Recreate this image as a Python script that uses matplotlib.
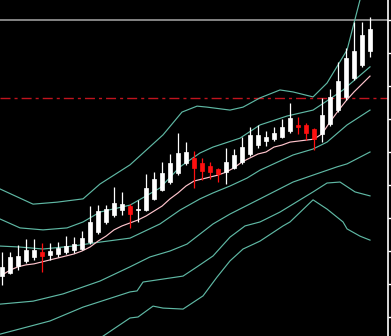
import matplotlib
matplotlib.use("Agg")
import matplotlib.pyplot as plt
from matplotlib.patches import Rectangle

# ---- data (price units) ----
opens  = [11.24,11.33,11.55,11.70,11.82,11.97,11.88,11.91,11.97,12.03,12.06,12.27,12.58,12.88,13.09,13.24,
          13.36,13.24,13.24,13.58,13.85,14.09,14.36,14.67,14.82,14.67,14.58,14.48,14.39,14.52,14.70,14.94,
          15.21,15.33,15.39,15.45,15.64,15.82,15.82,15.70,15.55,15.85,16.27,16.67,17.24,17.64,18.06]
highs  = [11.97,11.97,12.18,12.36,12.36,12.24,12.24,12.27,12.45,12.42,12.61,13.36,13.39,13.39,13.94,13.79,
          13.42,13.55,14.33,14.39,14.70,14.94,15.58,15.30,15.03,14.82,14.70,14.52,15.12,15.09,15.45,15.76,
          15.82,15.64,15.76,16.00,16.48,16.06,15.88,15.73,16.64,16.91,17.73,18.15,18.94,18.94,19.09]
lows   = [10.97,11.30,11.42,11.64,11.73,11.36,11.73,11.82,11.91,11.94,12.03,12.21,12.52,12.82,13.03,13.09,
          12.70,12.88,13.21,13.55,13.82,14.03,14.30,14.61,13.91,14.15,14.18,14.09,14.03,14.48,14.64,14.88,
          15.12,15.18,15.33,15.42,15.58,15.55,15.36,15.06,15.30,15.79,16.21,16.58,17.18,17.58,17.88]
closes = [11.52,11.82,11.85,12.03,12.03,11.85,12.00,12.09,12.15,12.21,12.39,12.88,13.21,13.27,13.45,13.42,
          13.12,13.27,13.91,14.18,14.36,14.67,14.97,15.00,14.52,14.42,14.39,14.33,14.70,14.91,15.15,15.52,
          15.52,15.45,15.58,15.76,16.03,15.76,15.58,15.39,16.12,16.67,17.15,17.85,18.06,18.55,18.73]

ma_line = [11.27,11.42,11.52,11.58,11.61,11.67,11.73,11.79,11.85,11.91,12.00,12.12,12.30,12.45,12.64,12.76,
           12.85,12.94,13.06,13.21,13.36,13.58,13.76,13.97,14.12,14.18,14.24,14.30,14.39,14.52,14.70,14.82,
           14.94,15.00,15.15,15.21,15.30,15.33,15.36,15.39,15.55,15.91,16.24,16.55,16.82,17.06,17.30]

band_a_x = [-0.25,3.88,6.88,10.13,12.25,16.0,20.13,22.5,24.38,25.63,28.5,30.13,32.25,34.75,36.38,38.88,40.63,43.13,44.75,46.0]
band_a_y = [13.88,13.42,13.48,13.58,14.03,14.61,15.52,16.21,16.39,16.36,16.27,16.36,16.64,16.88,16.82,16.67,17.09,18.09,19.61,20.4]

band_b_x = [-0.25,2.25,5.13,8.13,10.13,12.25,16.0,19.75,22.25,24.75,26.38,29.75,32.25,35.63,37.25,38.88,41.0,42.63,46.0]
band_b_y = [12.97,12.70,12.64,12.70,12.88,13.18,13.39,13.91,14.55,14.97,15.15,15.42,15.82,16.09,16.18,16.27,16.61,16.88,17.58]

band_c_x = [-0.25,2.25,5.13,8.88,12.25,16.0,19.75,22.25,24.75,26.38,28.5,30.63,32.25,36.38,38.88,40.63,43.13,46.0]
band_c_y = [12.15,12.12,12.06,12.15,12.27,12.39,12.82,13.24,13.58,13.76,13.97,14.21,14.45,14.91,15.09,15.30,15.82,16.27]

band_d_x = [-0.25,3.88,7.63,12.25,16.0,18.5,21.0,23.13,26.38,28.5,32.25,36.38,38.88,41.88,43.13,46.0]
band_d_y = [10.39,10.48,10.70,11.09,11.52,11.82,12.00,12.21,12.82,13.12,13.58,14.09,14.30,14.55,14.64,15.00]

band_e_x = [-0.25,6.0,10.13,16.0,16.88,17.63,20.13,22.63,24.38,26.38,28.5,30.38,32.25,34.75,37.25,38.88,40.63,42.25,44.13,46.0]
band_e_y = [9.48,9.88,10.30,10.76,10.79,11.06,11.15,11.24,11.52,11.85,12.42,12.76,12.88,13.18,13.55,13.79,14.06,14.09,13.79,13.67]

band_f_x = [12.63,16.0,17.0,18.88,20.13,22.63,25.13,26.88,28.5,30.13,32.25,35.13,36.0,38.88,40.63,42.63,43.13,44.75,46.0]
band_f_y = [9.42,9.97,10.0,10.33,10.27,10.24,10.64,11.21,11.70,12.06,12.30,12.76,12.88,13.55,13.27,12.88,12.67,12.45,12.33]

top_level = 19.0
resistance_level = 16.64
axis_ticks = [10, 11, 12, 13, 14, 15, 16, 17, 18, 19]

# ---- styles ----
BG = "#000000"
UP = "#ffffff"
DOWN = "#ff1010"
BAND = "#5fb8a4"
MA = "#ffc4cc"

fig = plt.figure(figsize=(3.91, 3.36), dpi=100, facecolor=BG)
ax = fig.add_axes([0, 0, 388 / 391, 1])
ax.set_facecolor(BG)

for bx, by in [(band_a_x, band_a_y), (band_b_x, band_b_y), (band_c_x, band_c_y),
               (band_d_x, band_d_y), (band_e_x, band_e_y), (band_f_x, band_f_y)]:
    ax.plot(bx, by, color=BAND, lw=0.85, zorder=2)

ax.plot(range(len(ma_line)), ma_line, color=MA, lw=0.85, zorder=2)

ax.axhline(top_level, color="#a8a8a8", lw=1.1, zorder=1)
ax.axhline(resistance_level, color="#c0141e", lw=1.0, zorder=1,
           linestyle=(0, (7.2, 2.9, 2.2, 2.9)))

w = 0.62
for i, (o, h, l, c) in enumerate(zip(opens, highs, lows, closes)):
    col = UP if c >= o else DOWN
    ax.plot([i, i], [l, h], color=col, lw=0.9, zorder=3, solid_capstyle="butt")
    lo, hi = min(o, c), max(o, c)
    ax.add_patch(Rectangle((i - w / 2, lo), w, max(hi - lo, 0.03), facecolor=col,
                           edgecolor=col, lw=0.5, zorder=4))

ax.set_xlim(-0.25, 48.25)
ax.set_ylim(10 - 19 / 33, 10 + 317 / 33)

for s in ["left", "top", "bottom"]:
    ax.spines[s].set_visible(False)
ax.spines["right"].set_color("white")
ax.spines["right"].set_linewidth(1.2)
ax.yaxis.tick_right()
ax.set_yticks(axis_ticks)
ax.tick_params(axis="y", direction="out", length=3, width=1, color="white", labelright=False, labelleft=False)
ax.set_xticks([])

fig.savefig("out.png", dpi=100, facecolor=BG)
